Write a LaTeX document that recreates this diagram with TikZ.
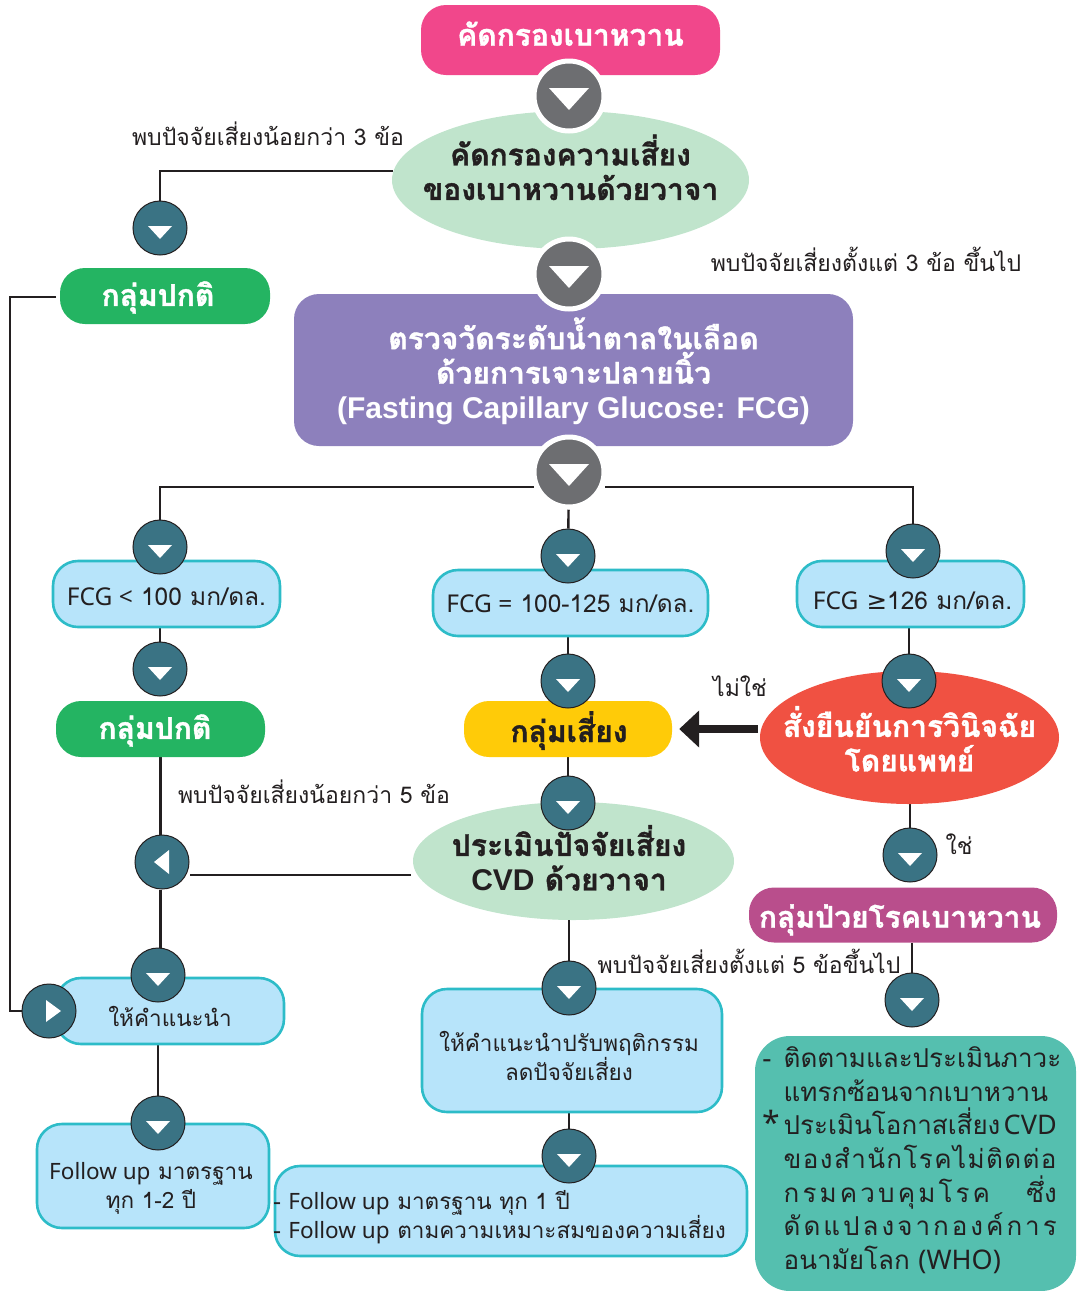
\documentclass[tikz,border=0pt]{standalone}
\usepackage{fontspec}
\setmainfont[Script=Thai,BoldFeatures={FakeBold=1.2}]{Loma}
\newfontfamily\dejavu{DejaVu Sans}
\newfontfamily\latinfont{Noto Sans}
\newfontfamily\latinheavy{Liberation Sans}
\usetikzlibrary{shapes.geometric,arrows.meta,backgrounds}
\definecolor{inkdark}{HTML}{231F20}
\definecolor{pinkbox}{HTML}{F1478B}
\definecolor{mintoval}{HTML}{C0E4CC}
\definecolor{purplebox}{HTML}{8D80BC}
\definecolor{greenbox}{HTML}{24B462}
\definecolor{skybox}{HTML}{B7E4FA}
\definecolor{skyedge}{HTML}{2DBCC8}
\definecolor{amberbox}{HTML}{FFCB08}
\definecolor{redoval}{HTML}{F05142}
\definecolor{plumbox}{HTML}{B94E8C}
\definecolor{seabox}{HTML}{55BFAF}
\definecolor{tealdot}{HTML}{3A7384}
\definecolor{greydot}{HTML}{6D6E71}
\newcommand{\bodysize}{\fontsize{22.5}{29}\selectfont}
\newcommand{\labelsize}{\fontsize{23}{29}\selectfont}
\newcommand{\fcgsize}{\fontsize{24.5}{29}\selectfont}
\newcommand{\headsize}{\fontsize{30}{34.5}\bfseries\selectfont}
\newcommand{\whosize}{\fontsize{26}{33.7}\selectfont}
\newcommand{\whobig}{\latinfont\fontsize{27}{33.7}\selectfont}
\newcommand{\whostar}{\latinfont\fontsize{32}{33.7}\selectfont}
% text set off the middle of its node, without changing the node's size
\newcommand{\nudge}[4][c]{\hspace*{#2pt}\raisebox{-#3pt}[0pt][0pt]{\makebox[0pt]{\begin{tabular}{@{}#1@{}}#4\end{tabular}}}\hspace*{-#2pt}}
\newcommand{\spaced}[2]{{\addfontfeature{LetterSpace=#1}#2}}
\tikzset{
  box/.style={rounded corners=25pt,inner sep=0pt,text=inkdark},
  headbox/.style={box,text=white,font=\headsize},
  skyfill/.style={box,fill=skybox,draw=skyedge,line width=2.6pt,font=\bodysize},
  oval/.style={ellipse,inner sep=0pt,font=\headsize},
  link/.style={draw=inkdark,line width=2.4pt},
  saying/.style={text=inkdark,inner sep=0pt,font=\labelsize},
  dot/.style={circle,inner sep=0pt,minimum size=54pt,fill=tealdot,draw=inkdark,line width=1pt},
  dotdown/.style={dot,path picture={\fill[white]
    ([shift={(-12,-2)}]path picture bounding box.center) -- ([shift={(12,-2)}]path picture bounding box.center)
    -- ([shift={(0,11)}]path picture bounding box.center) -- cycle;}},
  dotleft/.style={dot,path picture={\fill[white]
    ([shift={(7,-12)}]path picture bounding box.center) -- ([shift={(7,12)}]path picture bounding box.center)
    -- ([shift={(-8,0)}]path picture bounding box.center) -- cycle;}},
  dotright/.style={dot,path picture={\fill[white]
    ([shift={(-3,-11)}]path picture bounding box.center) -- ([shift={(-3,11)}]path picture bounding box.center)
    -- ([shift={(12,0)}]path picture bounding box.center) -- cycle;}},
  bigdot/.style={circle,inner sep=0pt,minimum size=70pt,fill=greydot,draw=white,line width=5pt,
    path picture={\fill[white]
    ([shift={(-20,-8)}]path picture bounding box.center) -- ([shift={(20,-8)}]path picture bounding box.center)
    -- ([shift={(0,14)}]path picture bounding box.center) -- cycle;}},
}
\begin{document}
\begin{tikzpicture}[x=1pt,y=-1pt]
	\useasboundingbox (0,0) rectangle (1077,1291);

	% top column
	\node[headbox,fill=pinkbox,minimum width=299pt,minimum height=70pt] (screen) at (570.5,40) {\nudge{0}{5}{คัดกรองเบาหวาน}};
	\node[oval,fill=mintoval,text=inkdark,minimum width=357pt,minimum height=138pt] (riskoval) at (570.5,180) {\nudge{0}{2}{\smash{คัดกรองความเสี่ยง}\\\smash{ของเบาหวานด้วยวาจา}}};
	\node[headbox,fill=purplebox,minimum width=559pt,minimum height=152pt] (fcgtest) at (573.5,370) {\nudge{0}{13}{\smash{ตรวจวัดระดับน้ำตาลในเลือด}\\\smash{ด้วยการเจาะปลายนิ้ว}\\\smash{\latinheavy (Fasting Capillary Glucose: FCG)}}};
	\node[headbox,fill=greenbox,minimum width=210pt,minimum height=56pt] (normaltop) at (165,296) {\nudge{-7}{9}{กลุ่มปกติ}};

	% three results
	\node[skyfill,font=\fcgsize,minimum width=227pt,minimum height=66pt] (fcglow) at (166.5,594) {\nudge{0}{12}{{\latinfont FCG <} 100 มก/ดล.}};
	\node[skyfill,font=\fcgsize,minimum width=275pt,minimum height=66pt] (fcgmid) at (570.5,603) {\nudge{0}{10}{{\latinfont FCG =} 100-125 มก/ดล.}};
	\node[skyfill,font=\fcgsize,minimum width=227pt,minimum height=66pt] (fcghigh) at (910.5,594) {\nudge{2}{16}{{\latinfont FCG} {\dejavu ≥}126 มก/ดล.}};
	\node[headbox,fill=greenbox,minimum width=209pt,minimum height=56pt] (normalmid) at (160.5,729) {\nudge{-5.5}{9}{กลุ่มปกติ}};
	\node[headbox,fill=amberbox,text=inkdark,minimum width=208pt,minimum height=56pt] (riskgroup) at (568,729) {\nudge{1}{9}{กลุ่มเสี่ยง}};
	\node[oval,fill=redoval,text=white,minimum width=299pt,minimum height=133pt] (confirm) at (909.5,737.5) {\nudge{0}{16}{\smash{สั่งยืนยันการวินิจฉัย}\\\smash{โดยแพทย์}}};
	\node[oval,fill=mintoval,text=inkdark,minimum width=321pt,minimum height=118pt] (cvdoval) at (573.5,861) {\nudge{-4.5}{11.5}{\smash{ประเมินปัจจัยเสี่ยง}\\\smash{{\latinheavy CVD} ด้วยวาจา}}};
	\node[headbox,fill=plumbox,minimum width=308pt,minimum height=55pt] (patient) at (903,915) {\nudge{-3}{12}{กลุ่มป่วยโรคเบาหวาน}};

	% bottom boxes
	\node[skyfill,minimum width=228pt,minimum height=66pt] (advice) at (170,1011) {\nudge{0}{15}{ให้คำแนะนำ}};
	\node[skyfill,minimum width=232pt,minimum height=104pt] (followleft) at (153,1176) {\nudge{-2}{17.5}{\smash{{\latinfont Follow up} มาตรฐาน}\\\smash{ทุก 1-2 ปี}}};
	\node[skyfill,minimum width=300pt,minimum height=123pt] (advicemid) at (572,1050.5) {\nudge{-3}{15}{\smash{ให้คำแนะนำปรับพฤติกรรม}\\\smash{ลดปัจจัยเสี่ยง}}};
	\node[skyfill,minimum width=472pt,minimum height=90pt] (followmid) at (511,1211) {\nudge[l]{-11.5}{12.5}{\smash{- {\latinfont Follow up} มาตรฐาน ทุก 1 ปี}\\\smash{- {\latinfont Follow up} ตามความเหมาะสมของความเสี่ยง}}};
	\node[box,fill=seabox,rounded corners=35pt,minimum width=321pt,minimum height=255pt,font=\whosize] (whobox) at (915.5,1163.5) {\nudge[l]{-3.5}{4.5}{%
		\smash{\makebox[21pt][l]{-}ติดตามและประเมินภาวะ}\\
		\smash{\hspace*{21pt}แทรกซ้อนจากเบาหวาน}\\
		\smash{\makebox[21pt][l]{\whostar *}\makebox[273pt][s]{ประเมินโอกาสเสี่ยง\hfill{\whobig CVD}}}\\
		\smash{\hspace*{21pt}\spaced{5.4}{ของสำนักโรคไม่ติดต่อ}}\\
		\smash{\hspace*{21pt}\makebox[273pt][s]{\spaced{12}{กรมควบคุมโรค}\hfill ซึ่ง}}\\
		\smash{\hspace*{21pt}\spaced{11.5}{ดัดแปลงจากองค์การ}}\\
		\smash{\hspace*{21pt}อนามัยโลก {\whobig (WHO)}}}};

	% round markers
	\node[bigdot] (greyone) at (569,96) {};
	\node[bigdot] (greytwo) at (569,274) {};
	\node[bigdot] (greythree) at (569,472) {};
	\node[dotdown] (dotnormal) at (160,228) {};
	\node[dotdown] (dotlow) at (160,547) {};
	\node[dotdown] (dotmid) at (568,556) {};
	\node[dotdown] (dothigh) at (913,551) {};
	\node[dotdown] (dotlowb) at (160,669) {};
	\node[dotdown] (dotmidb) at (568,681) {};
	\node[dotdown] (dothighb) at (909,681) {};
	\node[dotdown] (dotcvd) at (568,803) {};
	\node[dotleft] (dotback) at (162,862) {};
	\node[dotright] (dotin) at (49,1011) {};
	\node[dotdown] (dotyes) at (910,855) {};
	\node[dotdown] (dotadvice) at (158,975) {};
	\node[dotdown] (dotfollow) at (158,1123) {};
	\node[dotdown] (dotadvicemid) at (569,988) {};
	\node[dotdown] (dotfollowmid) at (569,1156) {};
	\node[dotdown] (dotcare) at (912,1000) {};

	% labels
	\node[saying] (lessthree) at (268,134) {พบปัจจัยเสี่ยงน้อยกว่า 3 ข้อ};
	\node[saying] (fromthree) at (866,259) {พบปัจจัยเสี่ยงตั้งแต่ 3 ข้อ ขึ้นไป};
	\node[saying] (lessfive) at (314,792) {พบปัจจัยเสี่ยงน้อยกว่า 5 ข้อ};
	\node[saying] (fromfive) at (749,961) {พบปัจจัยเสี่ยงตั้งแต่ 5 ข้อขึ้นไป};
	\node[saying] (sayno) at (740,686) {ไม่ใช่};
	\node[saying] (sayyes) at (959,844) {ใช่};

	% connectors under everything
	\coordinate (splitleft) at (534,487);
	\coordinate (splitright) at (605,487);
	\coordinate (riskleft) at (393,171);
	\coordinate (cvdleft) at (411,875);
	\coordinate (normalleft) at (56,297);
	\coordinate (railfoot) at (10,1011);
	\coordinate (nostart) at (758,729);
	\begin{scope}[on background layer]
		\draw[link] (riskleft) -| (dotnormal);
		\draw[link] (normalleft) -- (normalleft -| railfoot) -- (railfoot) -- (dotin);
		\draw[link] (splitleft) -| (dotlow);
		\draw[link] (splitright) -| (dothigh);
		\draw[link] (greythree) -- (dotmid);
		\draw[link] (dotlow |- fcglow.south) -- (dotlowb);
		\draw[link] (dotmid |- fcgmid.south) -- (dotmidb);
		\draw[link] (dothighb |- fcghigh.south) -- (dothighb);
		\draw[link] (normalmid.south) -- (normalmid.south |- dotback.north);
		\draw[link] (dotmid |- riskgroup.south) -- (dotcvd);
		\draw[link] (cvdleft) -- (cvdleft -| dotback.east);
		\draw[link] (normalmid.south |- dotback.south) -- (normalmid.south |- dotadvice.north);
		\draw[link] (dotfollow |- advice.south) -- (dotfollow);
		\draw[link] (dotadvicemid |- cvdoval.south) -- (dotadvicemid);
		\draw[link] (dotfollowmid |- advicemid.south) -- (dotfollowmid);
		\draw[link] (dotyes |- confirm.south) -- (dotyes);
		\draw[link] (dotcare |- patient.south) -- (dotcare);
		\draw[draw=inkdark,line width=8pt,-{Triangle[length=20pt,width=36pt]},shorten >=7pt] (nostart) -- (nostart -| riskgroup.east);
	\end{scope}
\end{tikzpicture}
\end{document}
